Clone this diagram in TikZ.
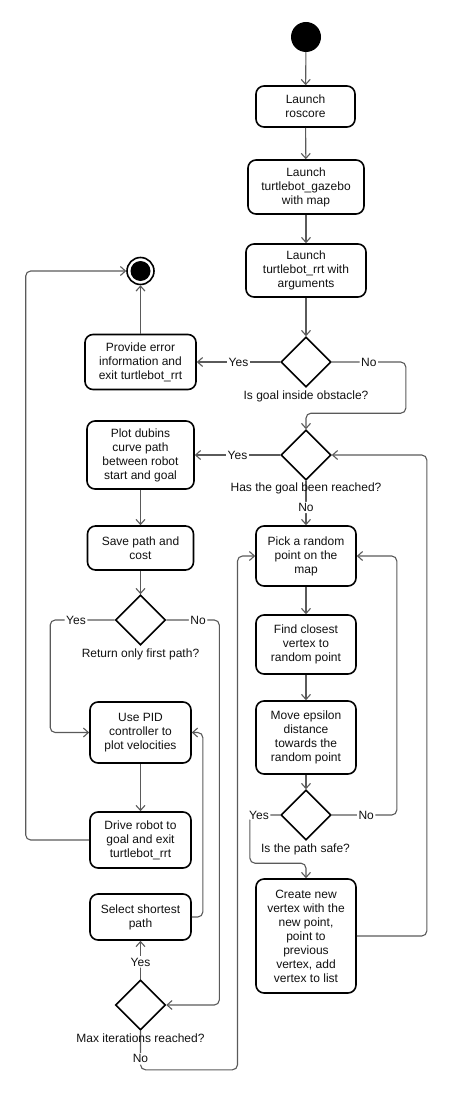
\documentclass[tikz,border=0pt]{standalone}
\usepackage{fontspec}
\setmainfont{Liberation Sans}
\usepackage{xcolor}
\usepackage{tikz}
\usetikzlibrary{calc,arrows.meta,shapes.geometric}
\definecolor{ink}{HTML}{000000}
\definecolor{edgec}{HTML}{5A5A5A}
\definecolor{txt}{HTML}{111111}
\tikzset{
  act/.style={draw=ink, line width=1.6pt, rounded corners=8pt, fill=white, align=center, text=txt, font=\fontsize{12}{14}\selectfont, inner sep=0pt},
  dec/.style={draw=ink, line width=1.6pt, diamond, minimum width=50pt, minimum height=50pt, inner sep=0pt},
  flow/.style={draw=edgec, line width=1.1pt, rounded corners=5pt, -{Straight Barb[length=5pt,width=9pt]}},
  lab/.style={text=txt, font=\fontsize{12}{14}\selectfont},
  elab/.style={lab, fill=white, inner sep=1.5pt}
}
\begin{document}
\begin{tikzpicture}[x=1pt,y=-1pt]
  \useasboundingbox (0,0) rectangle (450,1094);
  \node[circle, fill=ink, minimum size=30pt, inner sep=0pt] (start) at (306,37) {};
  \node[circle, draw=ink, line width=1.6pt, minimum size=27pt, inner sep=0pt] (stop) at (140.5,271) {};
  \fill[ink] (stop) circle (10pt);

  \node[act, minimum width=99pt, minimum height=41pt] (ros) at (305.5,106.5) {Launch\\roscore};
  \node[act, minimum width=116pt, minimum height=54pt] (gaz) at (306,187) {Launch\\turtlebot\_gazebo\\with map};
  \node[act, minimum width=120pt, minimum height=53pt] (rrt) at (306,270.5) {Launch\\turtlebot\_rrt with\\arguments};
  \node[dec] (d1) at (306,362) {};
  \node[act, minimum width=111pt, minimum height=55pt] (err) at (140.5,362) {Provide error\\information and\\exit turtlebot\_rrt};
  \node[dec] (d2) at (306,455) {};
  \node[act, minimum width=107pt, minimum height=68pt] (dub) at (140.5,455) {Plot dubins\\curve path\\between robot\\start and goal};
  \node[act, minimum width=106pt, minimum height=44pt] (save) at (140.5,548) {Save path and\\cost};
  \node[dec] (d3) at (140.5,620) {};
  \node[act, minimum width=101pt, minimum height=61pt] (pid) at (140.5,732.5) {Use PID\\controller to\\plot velocities};
  \node[act, minimum width=101pt, minimum height=56pt] (drive) at (140.5,840) {Drive robot to\\goal and exit\\turtlebot\_rrt};
  \node[act, minimum width=101pt, minimum height=46pt] (select) at (140.5,917) {Select shortest\\path};
  \node[dec] (d4) at (140.5,1005) {};
  \node[act, minimum width=100pt, minimum height=60pt] (pick) at (306,556) {Pick a random\\point on the\\map};
  \node[act, minimum width=100pt, minimum height=59pt] (find) at (306,644.5) {Find closest\\vertex to\\random point};
  \node[act, minimum width=100pt, minimum height=73pt] (move) at (306,737.5) {Move epsilon\\distance\\towards the\\random point};
  \node[dec] (d5) at (306,815) {};
  \node[act, minimum width=100pt, minimum height=114pt] (create) at (306,936) {Create new\\vertex with the\\new point,\\point to\\previous\\vertex, add\\vertex to list};

  \draw[flow] (start) -- (ros);
  \draw[flow] (ros) -- (gaz);
  \draw[flow] (gaz) -- (rrt);
  \draw[flow] (rrt) -- (d1);
  \draw[flow] (d1) -- node[elab]{Yes} (err);
  \draw[flow] (err) -- (stop);
  \draw[flow] (d1.east) -- node[elab]{No} ++(74,0) |- ($(d2.north)+(0,-16)$) -- (d2.north);
  \draw[flow] (d2) -- node[elab]{Yes} (dub);
  \draw[flow] (d2) -- node[elab, pos=0.6]{No} (pick);
  \draw[flow] (create.east) -- ++(70,0) |- (d2.east);
  \draw[flow] (dub) -- (save);
  \draw[flow] (save) -- (d3);
  \draw[flow] (d3.west) -- node[elab, pos=0.6]{Yes} ++(-64.5,0) |- (pid.west);
  \draw[flow] (d3.east) -- node[elab, pos=0.6]{No} ++(53,0) |- (d4.east);
  \draw[flow] (pid) -- (drive);
  \draw[flow] (drive.west) -- ++(-63.5,0) |- (stop.west);
  \draw[flow] (select.east) -- ++(11,0) |- (pid.east);
  \draw[flow] (d4) -- node[elab, pos=0.45]{Yes} (select);
  \draw[flow] (d4.south) -- node[elab, pos=0.72]{No} ++(0,39) -| ($(pick.west)+(-17.7,0)$) -- (pick.west);
  \draw[flow] (pick) -- (find);
  \draw[flow] (find) -- (move);
  \draw[flow] (move) -- (d5);
  \draw[flow] (d5.east) -- node[elab, pos=0.53]{No} ++(65,0) |- (pick.east);
  \draw[flow] (d5.west) -- node[elab, pos=0.7]{Yes} ++(-30.3,0) |- ($(create.north)+(0,-15)$) -- (create.north);

  \node[lab] (q1) at (306,396) {Is goal inside obstacle?};
  \node[lab] (q2) at (306,488.5) {Has the goal been reached?};
  \node[lab] (q3) at (140.5,654) {Return only first path?};
  \node[lab] (q5) at (305.5,849) {Is the path safe?};
  \node[lab] (q4) at (140.5,1038.5) {Max iterations reached?};
\end{tikzpicture}
\end{document}
